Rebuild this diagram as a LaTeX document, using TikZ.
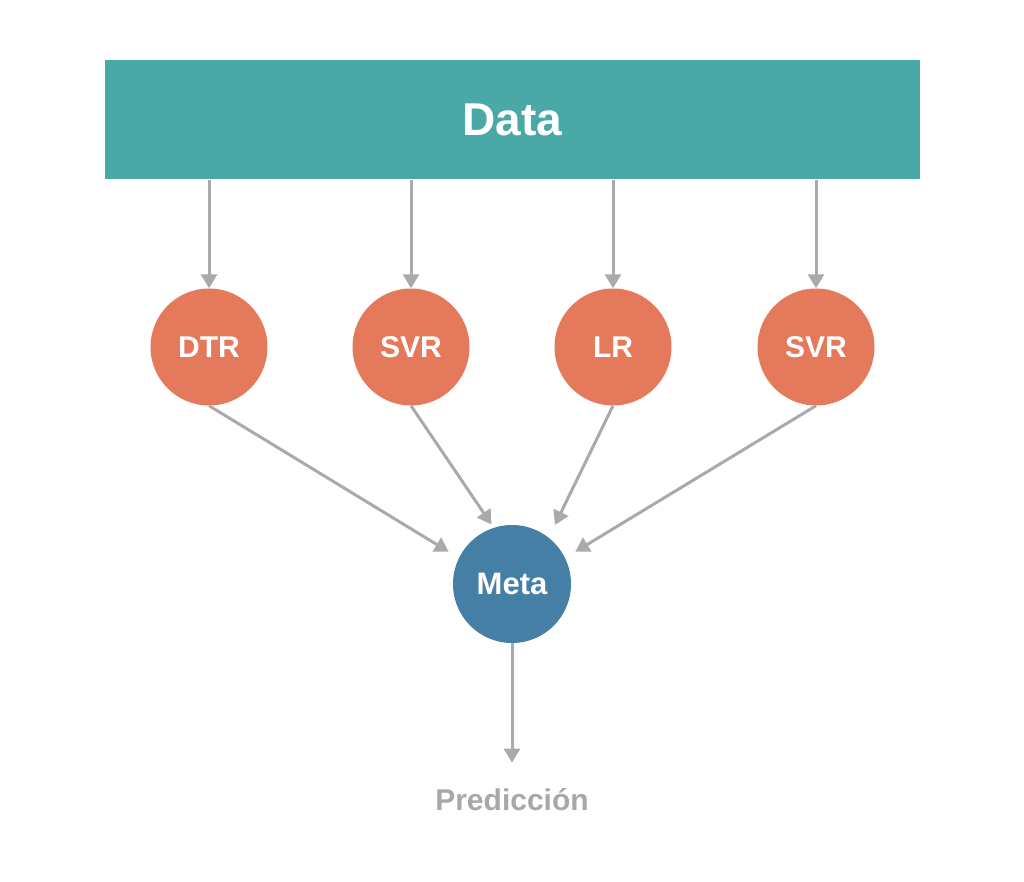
\documentclass[tikz,border=0pt]{standalone}
\usepackage{fontspec}
\setmainfont{Liberation Sans}
\usetikzlibrary{arrows.meta,calc}
\definecolor{teal1}{HTML}{4AA9A6}
\definecolor{orange1}{HTML}{E47A5B}
\definecolor{blue1}{HTML}{457FA5}
\definecolor{arrowgray}{HTML}{AAAAAA}
\definecolor{textgray}{HTML}{A8A8A8}
\tikzset{
  databox/.style={rectangle, fill=teal1, minimum width=815pt, minimum height=119pt, inner sep=0pt, text=white, font=\bfseries\fontsize{46}{46}\selectfont},
  model/.style={circle, fill=orange1, minimum size=117pt, inner sep=0pt, text=white, font=\bfseries\fontsize{30}{30}\selectfont},
  metanode/.style={circle, fill=blue1, minimum size=118pt, inner sep=0pt, text=white, font=\bfseries\fontsize{31}{31}\selectfont},
  conn/.style={draw=arrowgray, line width=3pt, -{Triangle[length=14pt,width=16pt]}},
  outlabel/.style={text=textgray, font=\bfseries\fontsize{30}{30}\selectfont, inner sep=0pt}
}
\begin{document}
\begin{tikzpicture}[x=1pt,y=1pt]
\useasboundingbox[fill=white] (0,0) rectangle (1024,-882);
\node[databox] (data) at (512.5,-120) {Data};
\node[model] (m1) at (209,-347) {DTR};
\node[model] (m2) at (411,-347) {SVR};
\node[model] (m3) at (613,-347) {LR};
\node[model] (m4) at (816,-347) {SVR};
\node[metanode] (meta) at (512,-584) {Meta};
\node[outlabel] (pred) at (512,-800) {Predicción};
\foreach \m in {m1,m2,m3,m4}
  \draw[conn] (data.south -| \m) -- (\m.north);
\draw[conn] (m1.south) -- ($(meta)+(153:71)$);
\draw[conn] (m2.south) -- ($(meta)+(109:63)$);
\draw[conn] (m3.south) -- ($(meta)+(54:73)$);
\draw[conn] (m4.south) -- ($(meta)+(27:71)$);
\draw[conn] (meta.south) -- ($(pred.north)+(0,26)$);
\end{tikzpicture}
\end{document}
